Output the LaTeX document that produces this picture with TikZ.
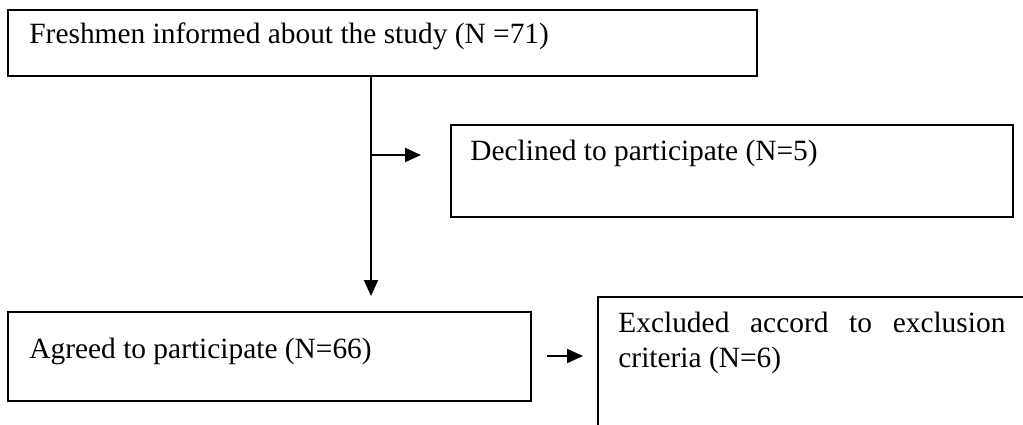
\documentclass[tikz,border=0pt]{standalone}
\usepackage{fontspec}
\setmainfont{Liberation Serif}
\usetikzlibrary{arrows.meta}
\begin{document}
\begin{tikzpicture}[x=0.5pt,y=-0.5pt,
  box/.style={draw,line width=1pt,rectangle,anchor=north west,inner sep=0pt},
  lbl/.style={anchor=base west,inner sep=0pt,font=\fontsize{14.7}{17.5}\selectfont},
  conn/.style={line width=1pt},
  arr/.style={line width=1pt,-{Triangle[length=8pt,width=7pt]}}]
\useasboundingbox (0,0) rectangle (1023,424);
\clip (0,0) rectangle (1023,424);
\node[box,minimum width=374.5pt,minimum height=33pt] (top) at (7,9) {};
\node[box,minimum width=281pt,minimum height=46pt] (decl) at (450,124) {};
\node[box,minimum width=261.5pt,minimum height=44.5pt] (agr) at (7,311) {};
\node[box,minimum width=250pt,minimum height=100pt] (excl) at (597,296) {};
\node[lbl] (ttop) at (29,43) {Freshmen informed about the study (N =71)};
\node[lbl] (tdecl) at (470,160) {Declined to participate (N=5)};
\node[lbl] (tagr) at (29,358) {Agreed to participate (N=66)};
\node[lbl,align=left] (texcl) at (618,367)
  {\makebox[193.5pt][s]{Excluded accord to exclusion}\\criteria (N=6)};
\coordinate (c1) at (371,75);
\coordinate (b1) at (371,155);
\coordinate (a1) at (421,155);
\coordinate (v2) at (371,296);
\coordinate (h1) at (547,356);
\coordinate (h2) at (583,356);
\draw[arr] (c1) -- (v2);
\draw[arr] (b1) -- (a1);
\draw[arr] (h1) -- (h2);
\end{tikzpicture}
\end{document}
